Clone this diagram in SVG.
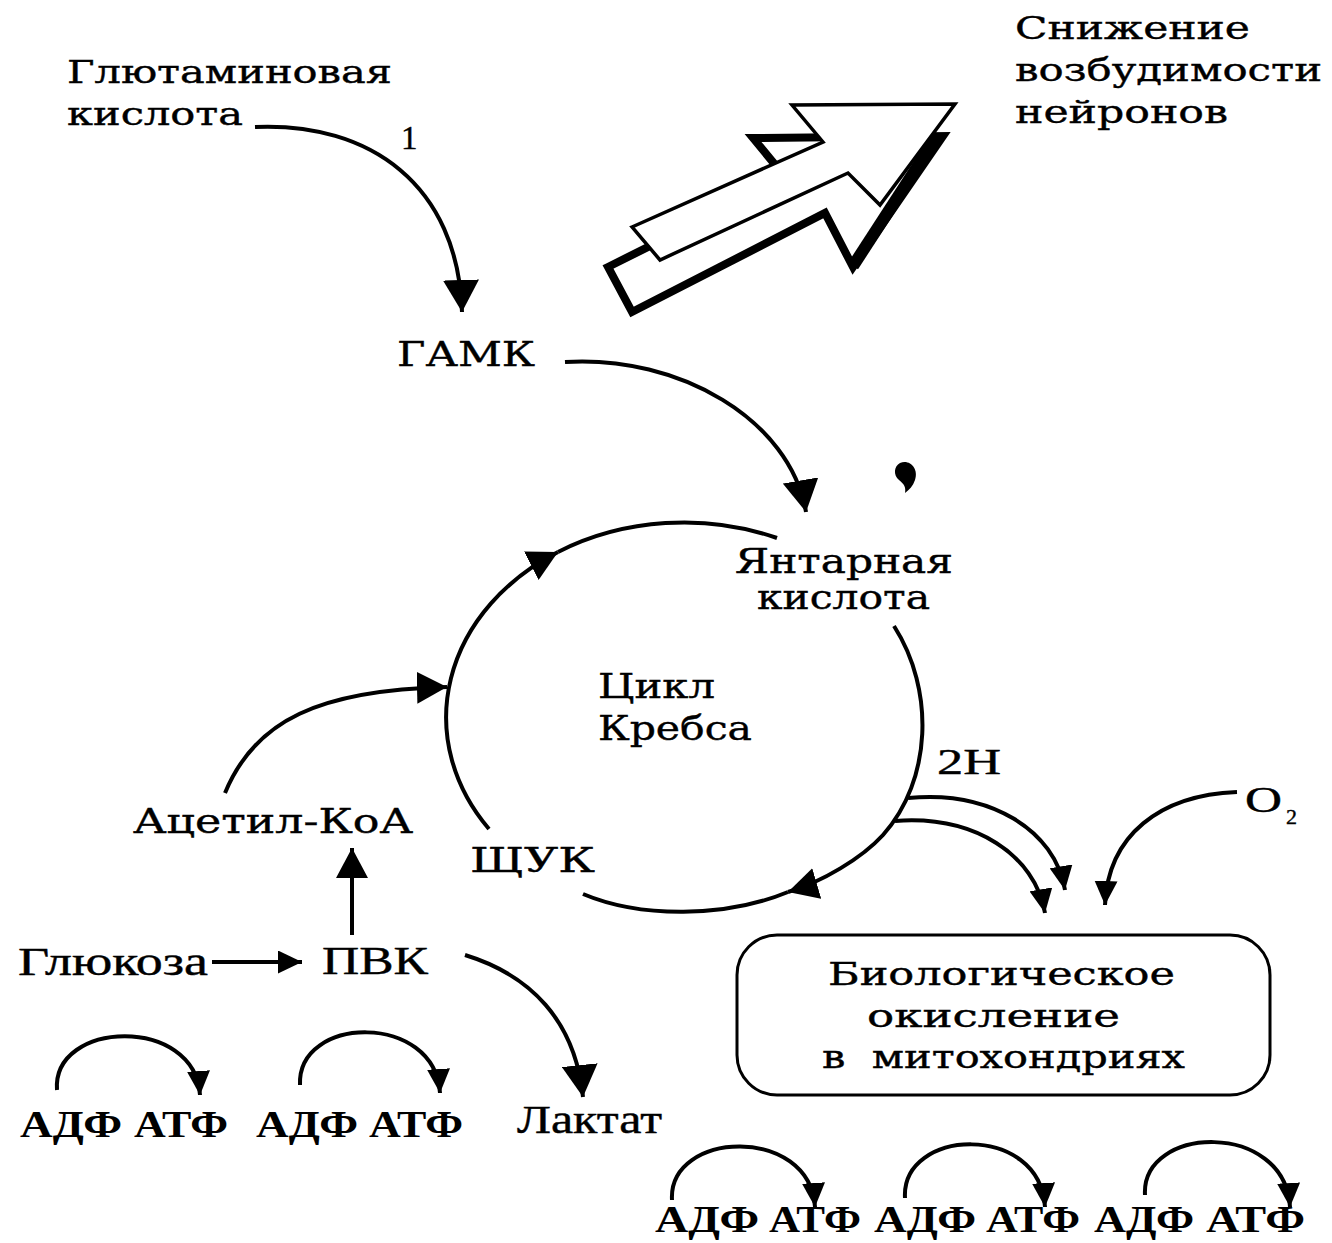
<svg xmlns="http://www.w3.org/2000/svg" width="1332" height="1243" viewBox="0 0 1332 1243">
<style>
.t{font-family:"DejaVu Serif","Liberation Serif",serif;font-size:32px;fill:#000;stroke:#000;stroke-width:0.4}
.r{font-family:"Liberation Serif","Times New Roman",serif;font-size:39px;fill:#000;stroke:#000;stroke-width:0.4}
.b{font-family:"Liberation Serif","Times New Roman",serif;font-size:37px;font-weight:bold;fill:#000}
.c{fill:none;stroke:#000;stroke-width:4}
</style>
<defs>
<marker id="ahL" viewBox="0 0 10 10" refX="10" refY="5" markerUnits="userSpaceOnUse" markerWidth="32" markerHeight="36" orient="auto" preserveAspectRatio="none"><path d="M0,0 L10,5 L0,10 z"/></marker>
<marker id="ahM" viewBox="0 0 10 10" refX="10" refY="5" markerUnits="userSpaceOnUse" markerWidth="30" markerHeight="32" orient="auto" preserveAspectRatio="none"><path d="M0,0 L10,5 L0,10 z"/></marker>
<marker id="ahS" viewBox="0 0 10 10" refX="10" refY="5" markerUnits="userSpaceOnUse" markerWidth="24" markerHeight="23" orient="auto" preserveAspectRatio="none"><path d="M0,0 L10,5 L0,10 z"/></marker>
</defs>
<rect width="1332" height="1243" fill="#fff"/>

<g id="connectors">
<path class="c" d="M255,127 C370,122 458,185 462,312" marker-end="url(#ahL)"/>
<path class="c" d="M565,362 C680,355 790,420 806,512" marker-end="url(#ahL)"/>
<path class="c" d="M489,829 A238 195 0 0 1 558,552" marker-end="url(#ahM)"/>
<path class="c" d="M558,552 A238 195 0 0 1 777,538"/>
<path class="c" d="M894,626 C935,690 932,780 883,835 C862,858 822,882 788,892" marker-end="url(#ahM)"/>
<path class="c" d="M788,892 C725,918 640,918 583,894"/>
<path class="c" d="M225,793 C255,720 320,690 447,687" marker-end="url(#ahM)"/>
<path class="c" d="M352,935 L352,848" marker-end="url(#ahM)"/>
<path class="c" d="M212,962 L302,962" marker-end="url(#ahS)"/>
<path class="c" d="M465,955 C530,975 575,1020 583,1097" marker-end="url(#ahL)"/>
<path class="c" d="M908,798 C990,790 1055,830 1065,890" marker-end="url(#ahS)"/>
<path class="c" d="M895,821 C975,815 1035,855 1045,913" marker-end="url(#ahS)"/>
<path class="c" d="M1237,792 C1160,795 1108,835 1105,905" marker-end="url(#ahS)"/>
<path class="c" d="M57,1090 C52,1020 195,1015 200,1095" marker-end="url(#ahS)"/>
<path class="c" d="M300,1085 C297,1015 435,1012 440,1093" marker-end="url(#ahS)"/>
<path class="c" d="M672,1200 C668,1130 810,1125 815,1207" marker-end="url(#ahS)"/>
<path class="c" d="M905,1198 C901,1128 1040,1122 1045,1207" marker-end="url(#ahS)"/>
<path class="c" d="M1145,1195 C1141,1125 1285,1120 1290,1207" marker-end="url(#ahS)"/>
</g>

<g id="big-arrow">
<polygon points="608,267 786,178 753,138 943,136 853,267 825,213 632,312" fill="#fff" stroke="#000" stroke-width="8" stroke-linejoin="miter"/>
<line x1="936" y1="138" x2="853" y2="266" stroke="#000" stroke-width="12"/>
<polygon points="632,227 823,142 792,105 955,104 880,205 848,173 660,260" fill="#fff" stroke="#000" stroke-width="3.5" stroke-linejoin="miter"/>
</g>

<g id="dot">
<path d="M900,463 C910,459 919,469 915,480 C913,486 909,490 905,493 C906,487 904,484 899,480 C893,475 894,466 900,463 Z" fill="#000"/>
</g>

<g id="glutamic">
<text class="t" x="67" y="83" textLength="325" lengthAdjust="spacingAndGlyphs">Глютаминовая</text>
<text class="t" x="67" y="125" textLength="176" lengthAdjust="spacingAndGlyphs">кислота</text>
</g>
<g id="label-1"><text class="r" x="401" y="149" style="font-size:33px">1</text></g>
<g id="excitability">
<text class="t" x="1015" y="39" textLength="235" lengthAdjust="spacingAndGlyphs">Снижение</text>
<text class="t" x="1015" y="81" textLength="307" lengthAdjust="spacingAndGlyphs">возбудимости</text>
<text class="t" x="1015" y="123" textLength="213" lengthAdjust="spacingAndGlyphs">нейронов</text>
</g>
<g id="gaba"><text class="t" x="397" y="366" textLength="138" lengthAdjust="spacingAndGlyphs" style="font-size:34px">ГАМК</text></g>
<g id="succinate">
<text class="t" x="735" y="573" textLength="218" lengthAdjust="spacingAndGlyphs" style="font-size:33px">Янтарная</text>
<text class="t" x="757" y="609" textLength="173" lengthAdjust="spacingAndGlyphs" style="font-size:33px">кислота</text>
</g>
<g id="krebs">
<text class="t" x="598" y="698" textLength="117" lengthAdjust="spacingAndGlyphs" style="font-size:33px">Цикл</text>
<text class="t" x="598" y="740" textLength="154" lengthAdjust="spacingAndGlyphs" style="font-size:33px">Кребса</text>
</g>
<g id="h2"><text class="r" x="937" y="774" textLength="64" lengthAdjust="spacingAndGlyphs" style="font-size:35px">2H</text></g>
<g id="o2"><text class="r" x="1245" y="812" textLength="37" lengthAdjust="spacingAndGlyphs" style="font-size:36px">O</text><text class="r" x="1286" y="824" style="font-size:22px">2</text></g>
<g id="acetyl"><text class="t" x="133" y="833" textLength="280" lengthAdjust="spacingAndGlyphs" style="font-size:33px">Ацетил-КоА</text></g>
<g id="oxaloacetate"><text class="t" x="470" y="872" textLength="125" lengthAdjust="spacingAndGlyphs" style="font-size:34px">ЩУК</text></g>
<g id="glucose"><text class="r" x="18" y="975" textLength="190" lengthAdjust="spacingAndGlyphs">Глюкоза</text></g>
<g id="pyruvate"><text class="r" x="322" y="974" textLength="106" lengthAdjust="spacingAndGlyphs">ПВК</text></g>
<g id="lactate"><text class="r" x="517" y="1133" textLength="145" lengthAdjust="spacingAndGlyphs">Лактат</text></g>
<g id="atp-left">
<text class="b" x="20" y="1137" textLength="102" lengthAdjust="spacingAndGlyphs">АДФ</text>
<text class="b" x="134" y="1137" textLength="94" lengthAdjust="spacingAndGlyphs">АТФ</text>
<text class="b" x="256" y="1137" textLength="102" lengthAdjust="spacingAndGlyphs">АДФ</text>
<text class="b" x="369" y="1137" textLength="94" lengthAdjust="spacingAndGlyphs">АТФ</text>
</g>
<g id="bio-oxidation">
<rect x="737" y="935" width="533" height="160" rx="40" ry="40" fill="none" stroke="#000" stroke-width="3"/>
<text class="t" x="828" y="985" textLength="347" lengthAdjust="spacingAndGlyphs">Биологическое</text>
<text class="t" x="867" y="1027" textLength="253" lengthAdjust="spacingAndGlyphs">окисление</text>
<text class="t" x="822" y="1068" textLength="363" lengthAdjust="spacingAndGlyphs" xml:space="preserve">в  митохондриях</text>
</g>
<g id="atp-right">
<text class="b" x="655" y="1232" textLength="104" lengthAdjust="spacingAndGlyphs">АДФ</text>
<text class="b" x="769" y="1232" textLength="92" lengthAdjust="spacingAndGlyphs">АТФ</text>
<text class="b" x="874" y="1232" textLength="102" lengthAdjust="spacingAndGlyphs">АДФ</text>
<text class="b" x="986" y="1232" textLength="94" lengthAdjust="spacingAndGlyphs">АТФ</text>
<text class="b" x="1094" y="1232" textLength="100" lengthAdjust="spacingAndGlyphs">АДФ</text>
<text class="b" x="1206" y="1232" textLength="99" lengthAdjust="spacingAndGlyphs">АТФ</text>
</g>
</svg>
